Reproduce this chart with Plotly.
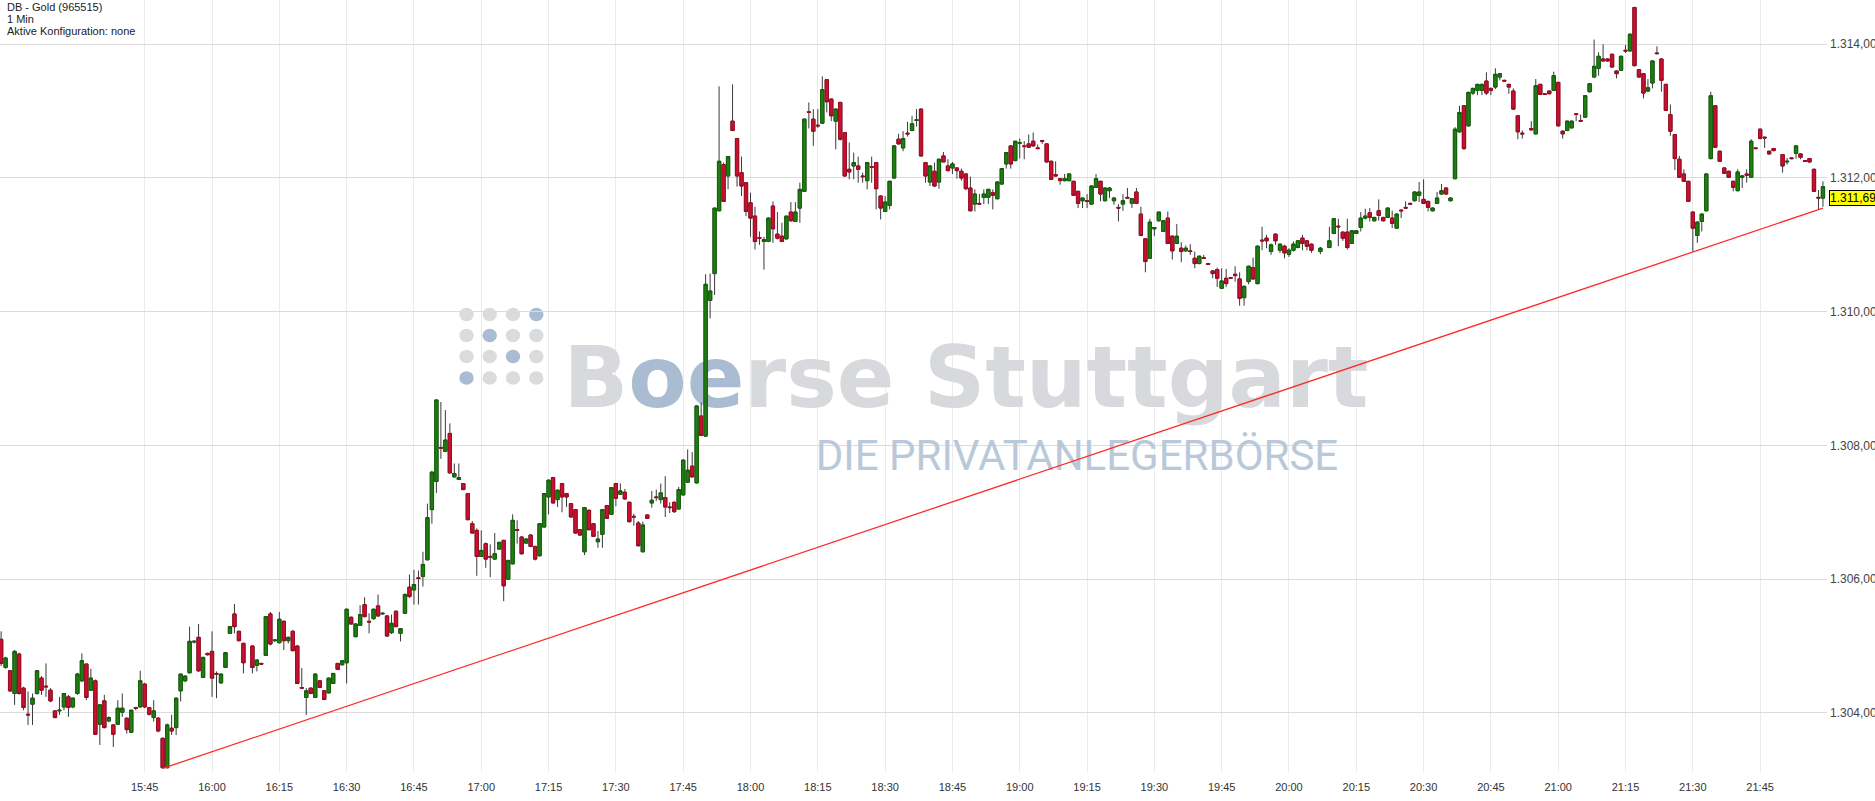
import plotly.graph_objects as go
import pandas as pd

# ---------------- data ----------------
DAY = "2019-02-19"
ANCHOR = "15:45"

# minutes after 15:45 of every 1-minute candle
minutes = [
    -32, -31, -30, -29, -28, -27, -26, -25, -24, -23,
    -22, -21, -20, -19, -18, -17, -16, -15, -14, -13,
    -12, -11, -10, -9, -8, -7, -6, -5, -4, -3,
    -2, -1, 0, 1, 2, 3, 4, 5, 6, 7,
    8, 9, 10, 11, 12, 13, 14, 15, 16, 17,
    18, 19, 20, 21, 22, 24, 25, 26, 27, 28,
    29, 30, 31, 32, 33, 34, 35, 36, 37, 38,
    39, 40, 41, 42, 43, 44, 45, 46, 47, 48,
    49, 50, 51, 52, 53, 54, 55, 56, 57, 58,
    59, 60, 61, 62, 63, 64, 65, 66, 67, 68,
    69, 70, 71, 72, 73, 74, 75, 76, 77, 78,
    79, 80, 81, 82, 83, 84, 85, 86, 87, 88,
    89, 90, 91, 92, 93, 94, 95, 96, 97, 98,
    99, 100, 101, 102, 103, 104, 105, 106, 107, 108,
    109, 110, 111, 112, 113, 114, 115, 116, 117, 118,
    119, 120, 121, 122, 123, 124, 125, 126, 127, 128,
    129, 130, 131, 132, 133, 134, 135, 136, 137, 138,
    139, 140, 141, 142, 143, 144, 145, 146, 147, 148,
    149, 150, 151, 152, 153, 154, 155, 156, 157, 158,
    159, 160, 161, 162, 163, 164, 165, 166, 167, 168,
    169, 170, 171, 172, 173, 174, 175, 176, 177, 178,
    179, 180, 181, 182, 183, 184, 185, 186, 187, 188,
    189, 190, 191, 192, 193, 194, 195, 196, 197, 198,
    199, 200, 201, 202, 203, 204, 205, 206, 207, 208,
    209, 210, 211, 212, 213, 214, 215, 216, 217, 218,
    219, 220, 221, 222, 223, 224, 225, 226, 227, 228,
    229, 230, 231, 232, 233, 234, 235, 236, 237, 238,
    239, 240, 241, 242, 243, 244, 245, 246, 247, 248,
    249, 250, 251, 252, 253, 254, 255, 256, 257, 258,
    259, 260, 262, 264, 265, 266, 267, 268, 269, 270,
    271, 272, 273, 274, 275, 276, 277, 278, 279, 280,
    281, 282, 283, 284, 285, 286, 287, 288, 289, 290,
    291, 292, 293, 294, 295, 296, 297, 298, 299, 300,
    301, 302, 303, 304, 305, 306, 307, 309, 310, 311,
    312, 313, 314, 315, 316, 317, 318, 319, 320, 321,
    322, 323, 324, 325, 326, 327, 328, 329, 330, 331,
    332, 333, 334, 335, 336, 337, 338, 339, 340, 341,
    342, 343, 344, 345, 346, 347, 348, 349, 350, 351,
    352, 353, 354, 355, 356, 357, 358, 359, 360, 361,
    362, 363, 365, 366, 367, 368, 369, 370, 371, 372,
    373, 374,
]

opens = [
    1305.10, 1304.68, 1304.63, 1304.29, 1304.88, 1304.37, 1303.98, 1304.13, 1304.29, 1304.52,
    1304.40, 1304.34, 1304.03, 1304.03, 1304.09, 1304.24, 1304.09, 1304.29, 1304.48, 1304.73,
    1304.34, 1304.48, 1303.83, 1304.18, 1303.88, 1303.82, 1303.83, 1304.01, 1303.92, 1303.71,
    1304.08, 1304.09, 1304.43, 1304.08, 1303.93, 1303.92, 1303.62, 1303.18, 1303.77, 1303.78,
    1304.33, 1304.48, 1304.60, 1305.06, 1305.13, 1304.53, 1304.89, 1304.92, 1304.59, 1304.45,
    1304.68, 1305.19, 1305.48, 1305.22, 1305.04, 1305.00, 1304.71, 1304.74, 1304.86, 1305.48,
    1305.08, 1305.05, 1305.37, 1305.08, 1305.22, 1305.00, 1304.38, 1304.23, 1304.37, 1304.23,
    1304.48, 1304.33, 1304.30, 1304.44, 1304.74, 1304.72, 1304.75, 1305.43, 1305.14, 1305.31,
    1305.62, 1305.37, 1305.41, 1305.60, 1305.48, 1305.45, 1305.20, 1305.52, 1305.19, 1305.49,
    1305.88, 1305.84, 1306.02, 1306.04, 1306.29, 1307.04, 1307.46, 1307.97, 1307.91, 1308.18,
    1307.53, 1307.49, 1307.43, 1307.28, 1306.83, 1306.73, 1306.34, 1306.53, 1306.34, 1306.30,
    1306.45, 1306.58, 1306.00, 1306.23, 1306.74, 1306.63, 1306.54, 1306.66, 1306.49, 1306.35,
    1306.78, 1307.23, 1307.52, 1307.19, 1307.43, 1307.28, 1307.13, 1307.04, 1306.74, 1306.41,
    1307.03, 1306.83, 1306.56, 1306.67, 1307.10, 1306.97, 1307.43, 1307.27, 1307.30, 1307.15,
    1306.94, 1306.84, 1306.41, 1306.96, 1307.14, 1307.23, 1307.19, 1307.22, 1307.08, 1307.15,
    1307.05, 1307.26, 1307.45, 1307.69, 1307.44, 1308.44, 1308.14, 1310.17, 1310.57, 1311.51,
    1312.20, 1312.03, 1312.85, 1312.59, 1312.08, 1311.93, 1311.63, 1311.43, 1311.11, 1311.05,
    1311.05, 1311.58, 1311.16, 1311.13, 1311.09, 1311.49, 1311.35, 1311.55, 1311.80, 1312.99,
    1312.88, 1312.79, 1312.82, 1313.47, 1313.18, 1312.85, 1313.13, 1312.68, 1312.13, 1312.18,
    1312.18, 1312.03, 1311.96, 1312.17, 1312.23, 1311.73, 1311.50, 1311.59, 1312.00, 1312.58,
    1312.45, 1312.67, 1312.71, 1312.86, 1313.03, 1312.23, 1311.94, 1312.10, 1311.94, 1312.33,
    1312.18, 1312.15, 1312.15, 1312.10, 1312.06, 1311.85, 1311.61, 1311.62, 1311.71, 1311.71,
    1311.78, 1311.69, 1311.91, 1312.21, 1312.48, 1312.26, 1312.52, 1312.48, 1312.51, 1312.55,
    1312.45, 1312.56, 1312.51, 1312.25, 1312.05, 1311.99, 1311.96, 1311.96, 1311.95, 1311.80,
    1311.66, 1311.66, 1311.61, 1311.86, 1311.95, 1311.66, 1311.81, 1311.66, 1311.56, 1311.61,
    1311.71, 1311.62, 1311.79, 1311.46, 1311.09, 1310.80, 1311.24, 1311.36, 1311.20, 1311.40,
    1311.13, 1311.02, 1310.95, 1310.91, 1310.91, 1310.80, 1310.72, 1310.81, 1310.72, 1310.61,
    1310.63, 1310.35, 1310.50, 1310.51, 1310.56, 1310.49, 1310.21, 1310.45, 1310.66, 1310.42,
    1311.07, 1311.10, 1310.90, 1311.16, 1310.92, 1310.98, 1310.86, 1310.92, 1310.96, 1311.10,
    1311.06, 1311.01, 1310.90, 1310.96, 1311.17, 1311.28, 1311.19, 1311.19, 1311.02, 1311.17,
    1311.26, 1311.40, 1311.48, 1311.36, 1311.51, 1311.41, 1311.41, 1311.40, 1311.25, 1311.52,
    1311.56, 1311.62, 1311.66, 1311.74, 1311.68, 1311.65, 1311.51, 1311.62, 1311.76, 1311.85,
    1311.66, 1311.99, 1312.69, 1313.08, 1312.78, 1313.27, 1313.31, 1313.31, 1313.45, 1313.34,
    1313.36, 1313.51, 1313.46, 1313.40, 1313.30, 1312.93, 1312.67, 1312.74, 1312.66, 1313.40,
    1313.26, 1313.30, 1313.31, 1313.43, 1312.70, 1312.71, 1312.75, 1312.96, 1312.86, 1312.91,
    1313.29, 1313.51, 1313.64, 1313.78, 1313.78, 1313.85, 1313.60, 1313.61, 1313.91, 1313.90,
    1314.55, 1313.62, 1313.56, 1313.30, 1313.42, 1313.87, 1313.78, 1313.40, 1312.95, 1312.65,
    1312.28, 1312.06, 1311.95, 1311.49, 1311.14, 1311.35, 1311.51, 1312.29, 1313.08, 1312.40,
    1312.15, 1312.10, 1311.95, 1311.81, 1312.01, 1312.06, 1312.01, 1312.45, 1312.73, 1312.61,
    1312.40, 1312.44, 1312.35, 1312.24, 1312.30, 1312.37, 1312.36, 1312.26, 1312.29, 1312.13,
    1311.71, 1311.70,
]

highs = [
    1305.22, 1304.84, 1304.64, 1304.94, 1304.90, 1304.39, 1304.32, 1304.29, 1304.64, 1304.55,
    1304.74, 1304.37, 1304.04, 1304.24, 1304.29, 1304.27, 1304.23, 1304.60, 1304.89, 1304.74,
    1304.66, 1304.50, 1304.13, 1304.27, 1303.95, 1303.83, 1304.19, 1304.29, 1303.93, 1304.05,
    1304.09, 1304.63, 1304.45, 1304.09, 1304.19, 1303.94, 1303.63, 1303.84, 1303.97, 1304.23,
    1304.59, 1304.56, 1305.29, 1305.09, 1305.33, 1304.84, 1304.90, 1305.22, 1304.62, 1304.59,
    1304.91, 1305.30, 1305.63, 1305.23, 1305.05, 1305.01, 1304.80, 1304.75, 1305.44, 1305.51,
    1305.10, 1305.51, 1305.38, 1305.14, 1305.24, 1305.01, 1304.67, 1304.37, 1304.38, 1304.59,
    1304.49, 1304.34, 1304.53, 1304.60, 1304.75, 1304.79, 1305.56, 1305.44, 1305.34, 1305.61,
    1305.73, 1305.49, 1305.56, 1305.77, 1305.50, 1305.46, 1305.47, 1305.53, 1305.27, 1305.79,
    1306.07, 1306.14, 1306.13, 1306.41, 1307.13, 1307.62, 1308.68, 1308.65, 1308.53, 1308.33,
    1307.73, 1307.73, 1307.44, 1307.29, 1306.87, 1306.76, 1306.73, 1306.55, 1306.52, 1306.69,
    1306.56, 1306.59, 1306.29, 1306.97, 1306.88, 1306.64, 1306.61, 1306.67, 1306.50, 1306.84,
    1307.29, 1307.49, 1307.53, 1307.34, 1307.44, 1307.29, 1307.14, 1307.05, 1306.75, 1307.08,
    1307.04, 1306.84, 1306.72, 1307.05, 1307.11, 1307.38, 1307.44, 1307.43, 1307.35, 1307.16,
    1306.98, 1306.87, 1306.86, 1306.97, 1307.32, 1307.34, 1307.43, 1307.54, 1307.15, 1307.16,
    1307.38, 1307.79, 1307.94, 1307.90, 1308.60, 1308.64, 1310.56, 1310.57, 1311.55, 1313.37,
    1312.23, 1312.33, 1313.40, 1312.60, 1312.32, 1311.94, 1311.78, 1311.57, 1311.20, 1311.12,
    1311.41, 1311.65, 1311.49, 1311.33, 1311.43, 1311.64, 1311.64, 1311.93, 1312.89, 1313.13,
    1313.03, 1313.03, 1313.52, 1313.48, 1313.19, 1313.04, 1313.14, 1312.69, 1312.53, 1312.38,
    1312.32, 1312.08, 1312.24, 1312.32, 1312.24, 1311.74, 1311.73, 1311.96, 1312.49, 1312.66,
    1312.70, 1312.84, 1312.93, 1313.03, 1313.04, 1312.24, 1312.19, 1312.23, 1312.29, 1312.39,
    1312.28, 1312.24, 1312.16, 1312.14, 1312.07, 1312.02, 1311.83, 1311.76, 1311.83, 1311.84,
    1311.83, 1311.95, 1312.15, 1312.39, 1312.49, 1312.55, 1312.59, 1312.55, 1312.65, 1312.68,
    1312.50, 1312.57, 1312.52, 1312.26, 1312.25, 1312.00, 1312.06, 1312.07, 1311.96, 1311.81,
    1311.71, 1311.76, 1311.89, 1312.06, 1311.96, 1311.86, 1311.86, 1311.71, 1311.61, 1311.76,
    1311.85, 1311.70, 1311.85, 1311.57, 1311.10, 1311.39, 1311.26, 1311.49, 1311.37, 1311.50,
    1311.14, 1311.31, 1311.04, 1310.99, 1311.01, 1310.90, 1310.84, 1310.85, 1310.73, 1310.62,
    1310.66, 1310.65, 1310.64, 1310.52, 1310.68, 1310.59, 1310.39, 1310.69, 1310.81, 1310.99,
    1311.27, 1311.15, 1311.02, 1311.17, 1311.02, 1311.00, 1310.95, 1311.05, 1311.07, 1311.15,
    1311.07, 1311.02, 1310.97, 1311.27, 1311.40, 1311.39, 1311.20, 1311.39, 1311.22, 1311.22,
    1311.49, 1311.54, 1311.55, 1311.42, 1311.68, 1311.42, 1311.56, 1311.51, 1311.47, 1311.53,
    1311.65, 1311.63, 1311.80, 1311.94, 1311.98, 1311.66, 1311.56, 1311.79, 1311.91, 1311.86,
    1311.71, 1312.76, 1313.08, 1313.09, 1313.29, 1313.35, 1313.41, 1313.41, 1313.58, 1313.35,
    1313.64, 1313.56, 1313.47, 1313.41, 1313.34, 1312.94, 1312.71, 1312.85, 1313.48, 1313.41,
    1313.27, 1313.31, 1313.59, 1313.44, 1312.71, 1312.86, 1312.86, 1312.97, 1312.95, 1313.24,
    1313.42, 1314.07, 1313.88, 1314.00, 1313.79, 1313.86, 1313.61, 1313.83, 1313.99, 1314.16,
    1314.56, 1313.63, 1313.57, 1313.48, 1313.76, 1313.97, 1313.79, 1313.41, 1313.10, 1312.66,
    1312.33, 1312.13, 1311.96, 1311.50, 1311.35, 1311.47, 1312.07, 1313.29, 1313.09, 1312.41,
    1312.16, 1312.11, 1311.96, 1312.13, 1312.04, 1312.13, 1312.58, 1312.46, 1312.74, 1312.62,
    1312.41, 1312.45, 1312.36, 1312.30, 1312.31, 1312.49, 1312.37, 1312.27, 1312.30, 1312.14,
    1311.82, 1311.95,
]

lows = [
    1304.70, 1304.66, 1304.31, 1304.12, 1304.27, 1304.04, 1303.82, 1303.82, 1304.27, 1304.27,
    1304.24, 1304.16, 1303.92, 1303.97, 1304.04, 1303.94, 1304.07, 1304.27, 1304.46, 1304.19,
    1304.33, 1303.67, 1303.52, 1303.77, 1303.86, 1303.49, 1303.82, 1303.94, 1303.69, 1303.70,
    1304.04, 1304.08, 1304.07, 1303.96, 1303.87, 1303.71, 1303.17, 1303.17, 1303.67, 1303.67,
    1304.17, 1304.46, 1304.59, 1305.04, 1304.61, 1304.52, 1304.86, 1304.24, 1304.22, 1304.43,
    1304.67, 1305.18, 1305.19, 1305.07, 1304.59, 1304.59, 1304.62, 1304.72, 1304.85, 1305.01,
    1305.06, 1305.04, 1304.94, 1305.04, 1304.93, 1304.43, 1304.36, 1303.97, 1304.28, 1304.22,
    1304.37, 1304.19, 1304.29, 1304.43, 1304.64, 1304.71, 1304.44, 1305.32, 1305.13, 1305.30,
    1305.43, 1305.19, 1305.39, 1305.44, 1305.47, 1305.14, 1305.18, 1305.28, 1305.07, 1305.48,
    1305.72, 1305.62, 1305.62, 1305.89, 1306.28, 1306.83, 1307.29, 1307.80, 1307.90, 1307.58,
    1307.52, 1307.49, 1307.33, 1306.88, 1306.68, 1306.05, 1306.33, 1306.17, 1306.03, 1306.29,
    1306.44, 1305.67, 1305.99, 1306.22, 1306.53, 1306.37, 1306.53, 1306.48, 1306.28, 1306.34,
    1306.77, 1306.97, 1307.13, 1307.08, 1307.00, 1307.08, 1306.92, 1306.68, 1306.65, 1306.36,
    1306.73, 1306.63, 1306.47, 1306.47, 1306.90, 1306.96, 1307.09, 1307.26, 1307.19, 1306.85,
    1306.80, 1306.49, 1306.40, 1306.90, 1307.07, 1307.17, 1307.13, 1306.93, 1306.99, 1306.99,
    1307.04, 1307.25, 1307.44, 1307.52, 1307.43, 1308.14, 1308.13, 1309.90, 1310.25, 1311.50,
    1311.64, 1311.83, 1312.70, 1311.87, 1311.73, 1311.43, 1311.12, 1310.93, 1311.00, 1310.63,
    1311.04, 1311.03, 1311.08, 1311.04, 1311.08, 1311.35, 1311.34, 1311.33, 1311.79, 1312.74,
    1312.48, 1312.75, 1312.81, 1312.98, 1312.85, 1312.43, 1312.56, 1312.02, 1311.98, 1311.98,
    1311.93, 1311.93, 1311.83, 1311.93, 1311.53, 1311.38, 1311.49, 1311.53, 1311.99, 1312.50,
    1312.40, 1312.62, 1312.70, 1312.77, 1312.32, 1311.93, 1311.88, 1311.87, 1311.84, 1312.24,
    1312.10, 1312.06, 1311.99, 1311.96, 1311.82, 1311.50, 1311.50, 1311.60, 1311.61, 1311.61,
    1311.53, 1311.68, 1311.90, 1312.14, 1312.14, 1312.25, 1312.29, 1312.28, 1312.45, 1312.47,
    1312.43, 1312.51, 1312.23, 1311.97, 1312.02, 1311.90, 1311.95, 1311.95, 1311.73, 1311.55,
    1311.55, 1311.55, 1311.60, 1311.85, 1311.65, 1311.65, 1311.70, 1311.60, 1311.35, 1311.51,
    1311.69, 1311.55, 1311.61, 1311.13, 1310.59, 1310.79, 1311.13, 1311.35, 1311.19, 1311.01,
    1310.78, 1311.01, 1310.74, 1310.90, 1310.85, 1310.65, 1310.71, 1310.79, 1310.70, 1310.50,
    1310.37, 1310.34, 1310.37, 1310.49, 1310.45, 1310.09, 1310.09, 1310.41, 1310.48, 1310.41,
    1310.92, 1310.95, 1310.85, 1311.00, 1310.88, 1310.80, 1310.82, 1310.90, 1310.95, 1310.92,
    1310.92, 1310.88, 1310.86, 1310.95, 1311.16, 1310.98, 1311.06, 1310.93, 1311.01, 1311.16,
    1311.20, 1311.38, 1311.35, 1311.35, 1311.36, 1311.35, 1311.40, 1311.25, 1311.24, 1311.40,
    1311.54, 1311.60, 1311.65, 1311.64, 1311.61, 1311.50, 1311.50, 1311.61, 1311.75, 1311.75,
    1311.65, 1311.98, 1312.68, 1312.42, 1312.77, 1313.24, 1313.24, 1313.24, 1313.24, 1313.24,
    1313.33, 1313.46, 1313.44, 1313.26, 1313.02, 1312.58, 1312.59, 1312.71, 1312.65, 1313.24,
    1313.24, 1313.25, 1313.30, 1312.77, 1312.59, 1312.70, 1312.74, 1312.85, 1312.84, 1312.90,
    1313.28, 1313.50, 1313.53, 1313.74, 1313.74, 1313.65, 1313.49, 1313.60, 1313.87, 1313.89,
    1313.67, 1313.50, 1313.19, 1313.29, 1313.34, 1313.85, 1313.29, 1313.00, 1312.63, 1312.12,
    1312.00, 1311.94, 1311.64, 1310.90, 1311.03, 1311.20, 1311.50, 1312.28, 1312.45, 1312.24,
    1312.06, 1312.00, 1311.80, 1311.80, 1311.85, 1311.93, 1312.00, 1312.43, 1312.58, 1312.45,
    1312.35, 1312.40, 1312.08, 1312.20, 1312.28, 1312.29, 1312.28, 1312.24, 1312.23, 1311.79,
    1311.53, 1311.57,
]

closes = [
    1304.74, 1304.82, 1304.33, 1304.92, 1304.29, 1304.08, 1303.97, 1304.22, 1304.63, 1304.34,
    1304.39, 1304.18, 1303.93, 1304.04, 1304.29, 1304.08, 1304.22, 1304.58, 1304.78, 1304.23,
    1304.52, 1303.68, 1304.12, 1303.78, 1303.93, 1303.68, 1304.07, 1304.07, 1303.75, 1304.04,
    1304.07, 1304.48, 1304.09, 1303.98, 1304.03, 1303.73, 1303.18, 1303.82, 1303.73, 1304.22,
    1304.58, 1304.55, 1305.07, 1305.07, 1304.63, 1304.83, 1304.87, 1304.52, 1304.58, 1304.58,
    1304.90, 1305.29, 1305.29, 1305.08, 1304.75, 1304.68, 1304.79, 1304.73, 1305.44, 1305.03,
    1305.09, 1305.40, 1305.08, 1305.13, 1304.93, 1304.44, 1304.37, 1304.33, 1304.29, 1304.58,
    1304.38, 1304.20, 1304.52, 1304.59, 1304.65, 1304.78, 1305.55, 1305.33, 1305.33, 1305.47,
    1305.44, 1305.36, 1305.55, 1305.45, 1305.49, 1305.15, 1305.34, 1305.29, 1305.26, 1305.77,
    1305.74, 1305.92, 1306.01, 1306.22, 1306.92, 1307.60, 1308.68, 1307.96, 1308.08, 1307.59,
    1307.58, 1307.52, 1307.34, 1306.89, 1306.69, 1306.34, 1306.43, 1306.30, 1306.33, 1306.38,
    1306.55, 1305.90, 1306.28, 1306.88, 1306.73, 1306.38, 1306.60, 1306.49, 1306.30, 1306.83,
    1307.28, 1307.48, 1307.14, 1307.33, 1307.23, 1307.23, 1306.93, 1306.69, 1306.66, 1307.07,
    1306.74, 1306.64, 1306.60, 1307.04, 1306.91, 1307.37, 1307.21, 1307.32, 1307.20, 1306.86,
    1306.93, 1306.50, 1306.81, 1306.91, 1307.18, 1307.22, 1307.29, 1307.08, 1307.07, 1307.01,
    1307.34, 1307.78, 1307.63, 1307.53, 1308.59, 1308.15, 1310.41, 1310.31, 1311.55, 1312.25,
    1311.65, 1312.32, 1312.71, 1312.03, 1311.88, 1311.50, 1311.40, 1311.05, 1311.10, 1311.08,
    1311.40, 1311.24, 1311.10, 1311.05, 1311.43, 1311.36, 1311.49, 1311.83, 1312.88, 1312.98,
    1312.70, 1312.78, 1313.32, 1313.14, 1312.93, 1313.03, 1312.58, 1312.03, 1312.09, 1312.23,
    1312.13, 1312.02, 1312.23, 1312.16, 1311.84, 1311.55, 1311.64, 1311.95, 1312.48, 1312.51,
    1312.59, 1312.66, 1312.81, 1312.87, 1312.33, 1312.03, 1312.18, 1311.88, 1312.28, 1312.24,
    1312.11, 1312.21, 1312.11, 1312.00, 1311.84, 1311.51, 1311.76, 1311.61, 1311.76, 1311.83,
    1311.74, 1311.94, 1312.14, 1312.38, 1312.21, 1312.55, 1312.53, 1312.47, 1312.46, 1312.48,
    1312.44, 1312.55, 1312.24, 1311.98, 1312.03, 1311.96, 1311.99, 1312.06, 1311.74, 1311.62,
    1311.70, 1311.65, 1311.88, 1311.99, 1311.76, 1311.85, 1311.85, 1311.70, 1311.55, 1311.66,
    1311.70, 1311.69, 1311.62, 1311.14, 1310.75, 1311.34, 1311.26, 1311.49, 1311.36, 1311.02,
    1310.91, 1311.13, 1310.90, 1310.95, 1310.90, 1310.72, 1310.83, 1310.80, 1310.71, 1310.57,
    1310.50, 1310.46, 1310.42, 1310.50, 1310.54, 1310.20, 1310.38, 1310.68, 1310.49, 1310.98,
    1311.06, 1311.06, 1311.00, 1311.06, 1311.01, 1310.88, 1310.92, 1311.01, 1311.06, 1311.02,
    1310.98, 1310.92, 1310.95, 1311.06, 1311.39, 1311.27, 1311.10, 1310.96, 1311.21, 1311.21,
    1311.40, 1311.43, 1311.41, 1311.41, 1311.44, 1311.36, 1311.55, 1311.32, 1311.46, 1311.51,
    1311.55, 1311.61, 1311.79, 1311.79, 1311.62, 1311.56, 1311.55, 1311.70, 1311.81, 1311.76,
    1311.70, 1312.73, 1312.98, 1312.44, 1313.28, 1313.34, 1313.40, 1313.40, 1313.27, 1313.31,
    1313.55, 1313.56, 1313.45, 1313.36, 1313.03, 1312.69, 1312.66, 1312.72, 1313.38, 1313.25,
    1313.25, 1313.26, 1313.53, 1312.78, 1312.66, 1312.85, 1312.85, 1312.95, 1312.85, 1313.23,
    1313.41, 1313.67, 1313.82, 1313.75, 1313.75, 1313.66, 1313.56, 1313.82, 1313.90, 1314.15,
    1313.68, 1313.51, 1313.27, 1313.35, 1313.75, 1313.86, 1313.46, 1313.01, 1312.70, 1312.29,
    1312.01, 1311.95, 1311.65, 1311.25, 1311.34, 1311.46, 1312.06, 1313.23, 1312.46, 1312.25,
    1312.07, 1312.01, 1311.86, 1312.09, 1312.03, 1312.04, 1312.55, 1312.44, 1312.59, 1312.60,
    1312.36, 1312.41, 1312.18, 1312.25, 1312.29, 1312.48, 1312.31, 1312.25, 1312.24, 1311.80,
    1311.70, 1311.87,
]

# red trend line (drawn on the chart by the user): start / end
trend_minutes = [4, 374]
trend_values = [1303.17, 1311.55]

last_price = 1311.695
last_price_text = "1.311,695"

x_tick_labels = ["15:45", "16:00", "16:15", "16:30", "16:45", "17:00", "17:15", "17:30",
                 "17:45", "18:00", "18:15", "18:30", "18:45", "19:00", "19:15", "19:30",
                 "19:45", "20:00", "20:15", "20:30", "20:45", "21:00", "21:15", "21:30", "21:45"]
y_tick_values = [1304, 1306, 1308, 1310, 1312, 1314]

header_lines = ["DB - Gold (965515)", "1 Min", "Aktive Konfiguration: none"]
watermark_main = "B<span style='color:#a9bcd1'>oe</span>rse Stuttgart"
watermark_sub = "DIE PRIVATANLEGERBÖRSE"

# ---------------- figure ----------------
W, H = 1875, 801
M_L, M_R, M_T, M_B = 0, 48, 0, 29
PW, PH = W - M_L - M_R, H - M_T - M_B

t0 = pd.Timestamp(f"{DAY} {ANCHOR}")
times = [t0 + pd.Timedelta(minutes=m) for m in minutes]
trend_times = [t0 + pd.Timedelta(minutes=m) for m in trend_minutes]
tickvals = [pd.Timestamp(f"{DAY} {t}") for t in x_tick_labels]

x_range = [t0 + pd.Timedelta(minutes=-32.25), t0 + pd.Timedelta(minutes=374.9)]
y_range = [1303.116, 1314.662]

GREEN_FILL, GREEN_EDGE = "#1f7d11", "#13620a"
RED_FILL, RED_EDGE = "#c9102f", "#a10b24"
WICK = "#3a3a3a"

body_top = [max(o, c) for o, c in zip(opens, closes)]
body_bot = [min(o, c) for o, c in zip(opens, closes)]

fig = go.Figure()

# watermark (on the base axes, drawn beneath the overlaid price axes)
fig.add_trace(go.Scatter(
    x=[966], y=[386], mode="text", text=[watermark_main],
    textposition="middle center",
    textfont=dict(family="DejaVu Sans", size=85, color="#d7d9dc", weight=700),
    hoverinfo="skip", showlegend=False, xaxis="x", yaxis="y"))
fig.add_trace(go.Scatter(
    x=[1077], y=[459], mode="text", text=[watermark_sub],
    textposition="middle center",
    textfont=dict(family="Roboto", size=42, color="#b9c9da"),
    hoverinfo="skip", showlegend=False, xaxis="x", yaxis="y"))

# candles: wicks
fig.add_trace(go.Candlestick(
    x=times, open=opens, high=highs, low=lows, close=closes,
    xaxis="x2", yaxis="y2", whiskerwidth=0,
    increasing=dict(line=dict(color=WICK, width=1), fillcolor=GREEN_FILL),
    decreasing=dict(line=dict(color=WICK, width=1), fillcolor=RED_FILL),
    hoverinfo="skip", showlegend=False))
# candles: bodies
fig.add_trace(go.Candlestick(
    x=times, open=opens, high=body_top, low=body_bot, close=closes,
    xaxis="x2", yaxis="y2", whiskerwidth=0,
    increasing=dict(line=dict(color=GREEN_EDGE, width=1), fillcolor=GREEN_FILL),
    decreasing=dict(line=dict(color=RED_EDGE, width=1), fillcolor=RED_FILL),
    hoverinfo="skip", showlegend=False))
# trend line
fig.add_trace(go.Scatter(
    x=trend_times, y=trend_values, mode="lines",
    line=dict(color="#ff2b2b", width=1.3),
    hoverinfo="skip", showlegend=False, xaxis="x2", yaxis="y2"))

# watermark dot logo (4 x 4)
dot_cols = [466.5, 489.7, 513.0, 536.3]
dot_rows = [314.5, 335.5, 356.5, 378.0]
blue_dots = {(0, 3), (1, 1), (2, 2), (3, 0)}
shapes = []
for r, yc in enumerate(dot_rows):
    for c, xc in enumerate(dot_cols):
        col = "#a9bcd1" if (r, c) in blue_dots else "#dadbdd"
        rad = 7.2
        shapes.append(dict(type="circle", xref="x", yref="y", layer="below",
                           x0=xc - rad, x1=xc + rad, y0=yc - rad + 0.5, y1=yc + rad - 0.5,
                           fillcolor=col, line=dict(width=0)))

annotations = []
for i, line in enumerate(header_lines):
    annotations.append(dict(
        text=line, xref="paper", yref="paper", x=0, y=1, xanchor="left", yanchor="middle",
        xshift=5, yshift=-(6.6 + 12 * i), showarrow=False,
        font=dict(family="Liberation Sans, Arial, sans-serif", size=11, color="#222222")))
annotations.append(dict(
    text=last_price_text, xref="paper", yref="y2", x=1, y=last_price,
    xanchor="left", yanchor="middle", xshift=2, showarrow=False,
    bgcolor="#ffff00", bordercolor="#000000", borderwidth=1, borderpad=0,
    font=dict(family="Liberation Sans, Arial, sans-serif", size=12, color="#000000")))

fig.update_layout(
    width=W, height=H,
    margin=dict(l=M_L, r=M_R, t=M_T, b=M_B, pad=0, autoexpand=False),
    paper_bgcolor="white", plot_bgcolor="white",
    separators=",.",
    showlegend=False,
    boxgap=0.27, boxgroupgap=0,
    shapes=shapes,
    annotations=annotations,
    xaxis=dict(range=[0, PW], visible=False, fixedrange=True, showgrid=False, automargin=False,
               zeroline=False, rangeslider=dict(visible=False)),
    yaxis=dict(range=[PH, 0], visible=False, fixedrange=True, showgrid=False, zeroline=False,
               automargin=False),
    xaxis2=dict(
        type="date", overlaying="x", anchor="y2", side="bottom", range=x_range,
        tickmode="array", tickvals=tickvals, ticktext=x_tick_labels, automargin=False,
        showgrid=True, gridcolor="#ebebeb", gridwidth=1,
        showline=False, zeroline=False, ticks="", ticklabelstandoff=7,
        tickfont=dict(family="Liberation Sans Narrow, Arial Narrow, Liberation Sans, sans-serif",
                      size=11, color="#333333"),
        rangeslider=dict(visible=False)),
    yaxis2=dict(
        overlaying="y", anchor="x2", side="right", range=y_range, automargin=False,
        tickmode="array", tickvals=y_tick_values, tickformat=",.3f",
        showgrid=True, gridcolor="#dcdcdc", gridwidth=1,
        showline=False, zeroline=False, ticks="", ticklabelstandoff=2,
        tickfont=dict(family="Liberation Sans, Arial, sans-serif", size=12, color="#444444")),
)

fig.write_html(
    "out.html",
    config={"displayModeBar": False},
    post_script="document.body.style.margin='0';document.body.style.overflow='hidden';",
)
